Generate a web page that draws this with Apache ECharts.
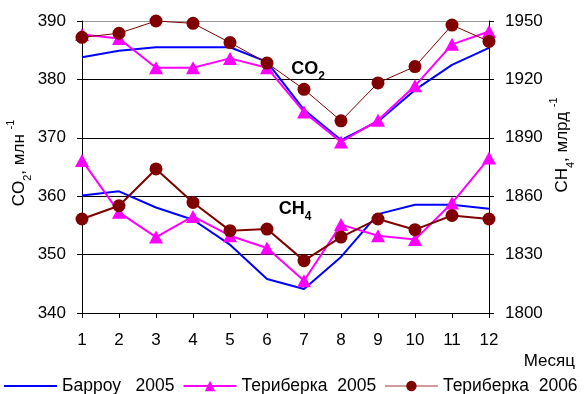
<!DOCTYPE html>
<html>
<head>
<meta charset="utf-8">
<script src="https://cdn.jsdelivr.net/npm/echarts@6/dist/echarts.min.js"></script>
<style>
html,body{margin:0;padding:0;background:#fff;}
#chart{width:584px;height:394px;}
</style>
</head>
<body>
<div id="chart"></div>
<script>
// Categories (months)
var months = ['1','2','3','4','5','6','7','8','9','10','11','12'];

// Series names
var nameBarrow = 'Барроу _2005';
var nameTer05 = 'Териберка_2005';
var nameTer06 = 'Териберка_2006';

// CO2, ppm (left axis)
var co2Barrow2005 = [383.8, 384.9, 385.5, 385.5, 385.5, 383.0, 374.8, 369.6, 372.8, 378.2, 382.5, 385.4];
var co2Teriberka2005 = [387.7, 387.0, 382.0, 382.0, 383.6, 382.0, 374.4, 369.3, 373.0, 378.9, 386.0, 388.2];
var co2Teriberka2006 = [387.2, 387.9, 390.0, 389.6, 386.3, 382.8, 378.3, 372.9, 379.4, 382.2, 389.3, 386.5];

// CH4, ppb (right axis)
var ch4Barrow2005 = [1860.4, 1862.5, 1854.2, 1847.9, 1835.1, 1817.5, 1812.3, 1828.8, 1850.8, 1855.6, 1855.6, 1853.6];
var ch4Teriberka2005 = [1878.4, 1851.7, 1839.0, 1849.6, 1839.7, 1833.4, 1816.6, 1845.4, 1839.7, 1837.7, 1856.5, 1879.6];
var ch4Teriberka2006 = [1848.3, 1855.1, 1874.0, 1856.8, 1842.3, 1843.1, 1826.9, 1839.0, 1848.3, 1842.8, 1850.1, 1848.3];

// Axis tick settings
var co2Min = 340, co2Max = 390, co2Step = 10;
var ch4Min = 1800, ch4Max = 1950, ch4Step = 30;

var FONT = '"Liberation Sans", Arial, sans-serif';
var chart = echarts.init(document.getElementById('chart'), null, {renderer: 'canvas'});

var blue = '#0000ff', magenta = '#ff00ff', darkred = '#800000';

var option = {
  animation: false,
  backgroundColor: '#ffffff',
  textStyle: {fontFamily: FONT, color: '#000'},
  grid: {left: 82, right: 95, top: 21, bottom: 81, containLabel: false},
  legend: {
    left: 3, top: 377, padding: 0, itemGap: 8, itemWidth: 53, itemHeight: 13,
    textStyle: {fontFamily: FONT, fontSize: 17.5, color: '#000'},
    data: [
      {name: nameBarrow, itemStyle: {opacity: 0}},
      {name: nameTer05},
      {name: nameTer06, lineStyle: {color: '#c07a7a', width: 1.5}}
    ]
  },
  xAxis: {
    type: 'category', data: months, boundaryGap: false,
    axisLine: {show: true, lineStyle: {color: '#000', width: 1}},
    axisTick: {show: true, length: 5, inside: false, alignWithLabel: true, lineStyle: {color: '#000'}},
    axisLabel: {margin: 19, fontSize: 17, color: '#000', fontFamily: FONT, interval: 0},
    splitLine: {show: false}
  },
  yAxis: [
    {
      type: 'value', position: 'left', min: co2Min, max: co2Max, interval: co2Step,
      axisLine: {show: true, lineStyle: {color: '#000', width: 1}},
      axisTick: {show: true, length: 5, inside: false, lineStyle: {color: '#000'}},
      axisLabel: {margin: 16, fontSize: 17, color: '#000', fontFamily: FONT,
                  formatter: function (v) { return String(v); }},
      splitLine: {show: true, lineStyle: {color: ['#000', '#000', '#000', '#000', '#000', '#999'], width: 1}}
    },
    {
      type: 'value', position: 'right', min: ch4Min, max: ch4Max, interval: ch4Step,
      axisLine: {show: true, lineStyle: {color: '#000', width: 1}},
      axisTick: {show: true, length: 5, inside: false, lineStyle: {color: '#000'}},
      axisLabel: {margin: 16, fontSize: 17, color: '#000', fontFamily: FONT,
                  formatter: function (v) { return String(v); }},
      splitLine: {show: false}
    }
  ],
  series: [
    {name: nameBarrow, type: 'line', yAxisIndex: 0, data: co2Barrow2005, symbol: 'none',
     lineStyle: {color: blue, width: 2}, itemStyle: {color: blue}, z: 2},
    {name: nameTer05, type: 'line', yAxisIndex: 0, data: co2Teriberka2005, symbol: 'triangle', symbolSize: [14, 13],
     lineStyle: {color: magenta, width: 2}, itemStyle: {color: magenta}, z: 3},
    {name: nameTer06, type: 'line', yAxisIndex: 0, data: co2Teriberka2006, symbol: 'circle', symbolSize: 13,
     lineStyle: {color: darkred, width: 1}, itemStyle: {color: darkred, borderWidth: 0}, z: 4},
    {name: nameBarrow, type: 'line', yAxisIndex: 1, data: ch4Barrow2005, symbol: 'none',
     lineStyle: {color: blue, width: 2}, itemStyle: {color: blue}, z: 2},
    {name: nameTer05, type: 'line', yAxisIndex: 1, data: ch4Teriberka2005, symbol: 'triangle', symbolSize: [14, 13],
     lineStyle: {color: magenta, width: 2}, itemStyle: {color: magenta}, z: 3},
    {name: nameTer06, type: 'line', yAxisIndex: 1, data: ch4Teriberka2006, symbol: 'circle', symbolSize: 13,
     lineStyle: {color: darkred, width: 2}, itemStyle: {color: darkred, borderWidth: 0}, z: 4}
  ],
  graphic: [
    {type: 'text', x: 19, y: 163, rotation: Math.PI / 2, z: 10,
     style: {text: '{a|CO}{b|2}{a|, млн }{c|-1}', align: 'center', verticalAlign: 'middle', fill: '#000',
       rich: {a: {fontSize: 17, lineHeight: 28, fontFamily: FONT, fill: '#000'},
              b: {fontSize: 11, lineHeight: 11, verticalAlign: 'bottom', fontFamily: FONT, fill: '#000'},
              c: {fontSize: 11, lineHeight: 11, verticalAlign: 'top', fontFamily: FONT, fill: '#000'}}}},
    {type: 'text', x: 562, y: 145, rotation: Math.PI / 2, z: 10,
     style: {text: '{a|CH}{b|4}{a|, млрд }{c|-1}', align: 'center', verticalAlign: 'middle', fill: '#000',
       rich: {a: {fontSize: 17, lineHeight: 28, fontFamily: FONT, fill: '#000'},
              b: {fontSize: 11, lineHeight: 11, verticalAlign: 'bottom', fontFamily: FONT, fill: '#000'},
              c: {fontSize: 11, lineHeight: 11, verticalAlign: 'top', fontFamily: FONT, fill: '#000'}}}},
    {type: 'text', x: 308, y: 69, z: 10,
     style: {text: '{a|CO}{b|2}', align: 'center', verticalAlign: 'middle', fill: '#000',
       rich: {a: {fontSize: 18, fontWeight: 'bold', lineHeight: 28, fontFamily: FONT, fill: '#000'},
              b: {fontSize: 12, fontWeight: 'bold', lineHeight: 12, verticalAlign: 'bottom', fontFamily: FONT, fill: '#000'}}}},
    {type: 'text', x: 295, y: 209, z: 10,
     style: {text: '{a|CH}{b|4}', align: 'center', verticalAlign: 'middle', fill: '#000',
       rich: {a: {fontSize: 18, fontWeight: 'bold', lineHeight: 28, fontFamily: FONT, fill: '#000'},
              b: {fontSize: 12, fontWeight: 'bold', lineHeight: 12, verticalAlign: 'bottom', fontFamily: FONT, fill: '#000'}}}},
    {type: 'text', x: 575, y: 361, z: 10,
     style: {text: 'Месяц', align: 'right', verticalAlign: 'middle', fill: '#000', fontSize: 17, fontFamily: FONT}}
  ]
};
chart.setOption(option);
</script>
</body>
</html>
